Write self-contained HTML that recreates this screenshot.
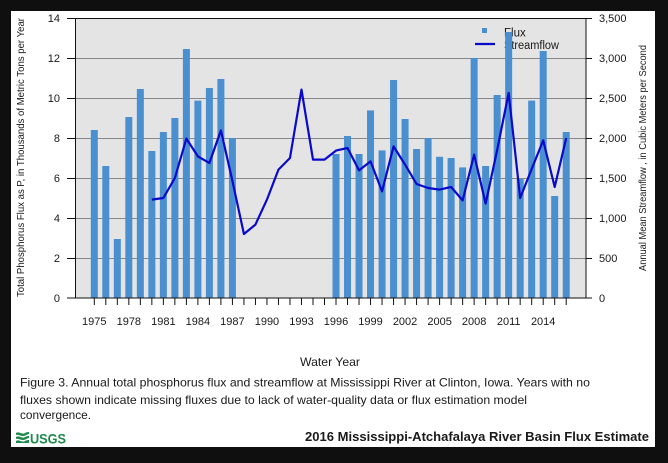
<!DOCTYPE html>
<html><head><meta charset="utf-8"><style>
html,body{margin:0;padding:0;background:#0f0f0f;}
svg{display:block;}
text{font-family:"Liberation Sans",Arial,sans-serif;fill:#1a1a1a;}
</style></head><body>
<svg width="668" height="463" viewBox="0 0 668 463" xmlns="http://www.w3.org/2000/svg">
<rect x="0" y="0" width="668" height="463" fill="#0f0f0f"/>
<rect x="11" y="11" width="644" height="436" fill="#ffffff"/>
<!-- plot area -->
<rect x="75" y="18" width="511" height="280" fill="#e4e4e4"/>
<g stroke="#888" stroke-width="1">
<line x1="75" y1="258.5" x2="586" y2="258.5"/>
<line x1="75" y1="218.5" x2="586" y2="218.5"/>
<line x1="75" y1="178.5" x2="586" y2="178.5"/>
<line x1="75" y1="138.5" x2="586" y2="138.5"/>
<line x1="75" y1="98.5" x2="586" y2="98.5"/>
<line x1="75" y1="58.5" x2="586" y2="58.5"/>
</g>
<!-- legend (drawn under bars) -->
<rect x="482" y="28" width="5" height="5" fill="#4a8fd0"/>
<line x1="475" y1="44" x2="495" y2="44" stroke="#0a0acc" stroke-width="2.2"/>
<text x="504" y="36.5" font-size="11.5">Flux</text>
<text x="504" y="49" font-size="11.5" textLength="55" lengthAdjust="spacingAndGlyphs">Streamflow</text>
<!-- bars -->
<g fill="#4a8fd0">
<rect x="90.8" y="130" width="7" height="168"/>
<rect x="102.31" y="166" width="7" height="132"/>
<rect x="113.82" y="239" width="7" height="59"/>
<rect x="125.33" y="117" width="7" height="181"/>
<rect x="136.84" y="89" width="7" height="209"/>
<rect x="148.35" y="151" width="7" height="147"/>
<rect x="159.86" y="132" width="7" height="166"/>
<rect x="171.37" y="118" width="7" height="180"/>
<rect x="182.88" y="49" width="7" height="249"/>
<rect x="194.39" y="100.6" width="7" height="197.4"/>
<rect x="205.9" y="88" width="7" height="210"/>
<rect x="217.41" y="79" width="7" height="219"/>
<rect x="228.92" y="138" width="7" height="160"/>
<rect x="332.51" y="154" width="7" height="144"/>
<rect x="344.02" y="136" width="7" height="162"/>
<rect x="355.53" y="154" width="7" height="144"/>
<rect x="367.04" y="110.4" width="7" height="187.6"/>
<rect x="378.55" y="150.4" width="7" height="147.6"/>
<rect x="390.06" y="80" width="7" height="218"/>
<rect x="401.57" y="119" width="7" height="179"/>
<rect x="413.08" y="149" width="7" height="149"/>
<rect x="424.59" y="138" width="7" height="160"/>
<rect x="436.1" y="156.8" width="7" height="141.2"/>
<rect x="447.61" y="158" width="7" height="140"/>
<rect x="459.12" y="167.4" width="7" height="130.6"/>
<rect x="470.63" y="58" width="7" height="240"/>
<rect x="482.14" y="166" width="7" height="132"/>
<rect x="493.65" y="95" width="7" height="203"/>
<rect x="505.16" y="32" width="7" height="266"/>
<rect x="516.67" y="179" width="7" height="119"/>
<rect x="528.18" y="100.6" width="7" height="197.4"/>
<rect x="539.69" y="51" width="7" height="247"/>
<rect x="551.2" y="196" width="7" height="102"/>
<rect x="562.71" y="132" width="7" height="166"/>
</g>
<!-- streamflow line -->
<polyline fill="none" stroke="#0a0acc" stroke-width="2.2" stroke-linejoin="round" points="151.85,199.6 163.36,198 174.87,178 186.38,138.6 197.89,156.4 209.4,163 220.91,130.4 232.42,181 243.93,234 255.44,224.6 266.95,199.6 278.46,169.6 289.97,158 301.48,89.6 312.99,159.6 324.5,159.6 336.01,150.6 347.52,148 359.03,170.4 370.54,161.4 382.05,191.4 393.56,146.4 405.07,164.6 416.58,184 428.09,188 439.6,189.6 451.11,187 462.62,200.4 474.13,154.6 485.64,203.6 497.15,150 508.66,93 520.17,198 531.68,169 543.19,140.4 554.7,187 566.21,138"/>
<!-- frame -->
<rect x="75.5" y="18.5" width="510.5" height="279.5" fill="none" stroke="#111" stroke-width="1"/>
<!-- left ticks -->
<g stroke="#111" stroke-width="1">
<line x1="67" y1="18.5" x2="75" y2="18.5"/>
<line x1="67" y1="58.5" x2="75" y2="58.5"/>
<line x1="67" y1="98.5" x2="75" y2="98.5"/>
<line x1="67" y1="138.5" x2="75" y2="138.5"/>
<line x1="67" y1="178.5" x2="75" y2="178.5"/>
<line x1="67" y1="218.5" x2="75" y2="218.5"/>
<line x1="67" y1="258.5" x2="75" y2="258.5"/>
<line x1="67" y1="298" x2="75" y2="298"/>
<line x1="586" y1="18.5" x2="592" y2="18.5"/>
<line x1="586" y1="58.5" x2="592" y2="58.5"/>
<line x1="586" y1="98.5" x2="592" y2="98.5"/>
<line x1="586" y1="138.5" x2="592" y2="138.5"/>
<line x1="586" y1="178.5" x2="592" y2="178.5"/>
<line x1="586" y1="218.5" x2="592" y2="218.5"/>
<line x1="586" y1="258.5" x2="592" y2="258.5"/>
<line x1="586" y1="298" x2="592" y2="298"/>
</g>
<!-- bottom ticks -->
<g stroke="#111" stroke-width="1">
<line x1="94.3" y1="298" x2="94.3" y2="305"/><line x1="105.81" y1="298" x2="105.81" y2="305"/><line x1="117.32" y1="298" x2="117.32" y2="305"/><line x1="128.83" y1="298" x2="128.83" y2="305"/><line x1="140.34" y1="298" x2="140.34" y2="305"/><line x1="151.85" y1="298" x2="151.85" y2="305"/><line x1="163.36" y1="298" x2="163.36" y2="305"/><line x1="174.87" y1="298" x2="174.87" y2="305"/><line x1="186.38" y1="298" x2="186.38" y2="305"/><line x1="197.89" y1="298" x2="197.89" y2="305"/><line x1="209.4" y1="298" x2="209.4" y2="305"/><line x1="220.91" y1="298" x2="220.91" y2="305"/><line x1="232.42" y1="298" x2="232.42" y2="305"/><line x1="243.93" y1="298" x2="243.93" y2="305"/><line x1="255.44" y1="298" x2="255.44" y2="305"/><line x1="266.95" y1="298" x2="266.95" y2="305"/><line x1="278.46" y1="298" x2="278.46" y2="305"/><line x1="289.97" y1="298" x2="289.97" y2="305"/><line x1="301.48" y1="298" x2="301.48" y2="305"/><line x1="312.99" y1="298" x2="312.99" y2="305"/><line x1="324.5" y1="298" x2="324.5" y2="305"/><line x1="336.01" y1="298" x2="336.01" y2="305"/><line x1="347.52" y1="298" x2="347.52" y2="305"/><line x1="359.03" y1="298" x2="359.03" y2="305"/><line x1="370.54" y1="298" x2="370.54" y2="305"/><line x1="382.05" y1="298" x2="382.05" y2="305"/><line x1="393.56" y1="298" x2="393.56" y2="305"/><line x1="405.07" y1="298" x2="405.07" y2="305"/><line x1="416.58" y1="298" x2="416.58" y2="305"/><line x1="428.09" y1="298" x2="428.09" y2="305"/><line x1="439.6" y1="298" x2="439.6" y2="305"/><line x1="451.11" y1="298" x2="451.11" y2="305"/><line x1="462.62" y1="298" x2="462.62" y2="305"/><line x1="474.13" y1="298" x2="474.13" y2="305"/><line x1="485.64" y1="298" x2="485.64" y2="305"/><line x1="497.15" y1="298" x2="497.15" y2="305"/><line x1="508.66" y1="298" x2="508.66" y2="305"/><line x1="520.17" y1="298" x2="520.17" y2="305"/><line x1="531.68" y1="298" x2="531.68" y2="305"/><line x1="543.19" y1="298" x2="543.19" y2="305"/><line x1="554.7" y1="298" x2="554.7" y2="305"/><line x1="566.21" y1="298" x2="566.21" y2="305"/>
</g>
<!-- left tick labels -->
<g font-size="11" text-anchor="end">
<text x="60" y="22">14</text>
<text x="60" y="62">12</text>
<text x="60" y="102">10</text>
<text x="60" y="142">8</text>
<text x="60" y="182">6</text>
<text x="60" y="222">4</text>
<text x="60" y="262">2</text>
<text x="60" y="302">0</text>
</g>
<!-- right tick labels -->
<g font-size="11">
<text x="599" y="22">3,500</text>
<text x="599" y="62">3,000</text>
<text x="599" y="102">2,500</text>
<text x="599" y="142">2,000</text>
<text x="599" y="182">1,500</text>
<text x="599" y="222">1,000</text>
<text x="599" y="262">500</text>
<text x="599" y="302">0</text>
</g>
<!-- x labels -->
<g font-size="11" text-anchor="middle">
<text x="94.3" y="325">1975</text>
<text x="128.83" y="325">1978</text>
<text x="163.36" y="325">1981</text>
<text x="197.89" y="325">1984</text>
<text x="232.42" y="325">1987</text>
<text x="266.95" y="325">1990</text>
<text x="301.48" y="325">1993</text>
<text x="336.01" y="325">1996</text>
<text x="370.54" y="325">1999</text>
<text x="405.07" y="325">2002</text>
<text x="439.6" y="325">2005</text>
<text x="474.13" y="325">2008</text>
<text x="508.66" y="325">2011</text>
<text x="543.19" y="325">2014</text>
</g>
<!-- axis titles -->
<text transform="translate(24,297) rotate(-90)" font-size="10.5" textLength="279" lengthAdjust="spacingAndGlyphs">Total Phosphorus Flux as P, in Thousands of Metric Tons per Year</text>
<text transform="translate(646,271) rotate(-90)" font-size="10.5" textLength="226" lengthAdjust="spacingAndGlyphs">Annual Mean Streamflow , in Cubic Meters per Second</text>
<text x="300" y="366" font-size="12" textLength="60" lengthAdjust="spacingAndGlyphs">Water Year</text>
<!-- caption -->
<g font-size="12">
<text x="20" y="386.5" textLength="570" lengthAdjust="spacingAndGlyphs">Figure 3. Annual total phosphorus flux and streamflow at Mississippi River at Clinton, Iowa. Years with no</text>
<text x="20" y="404" textLength="507" lengthAdjust="spacingAndGlyphs">fluxes shown indicate missing fluxes due to lack of water-quality data or flux estimation model</text>
<text x="20" y="419" textLength="71" lengthAdjust="spacingAndGlyphs">convergence.</text>
</g>
<!-- USGS logo -->
<g fill="#1f8a4c">
<path d="M16,433 C19,431 22,435 25,433 C27,432 28,432 29,432 L29,434 C27,434 26,436 23,436 C20,436 18,434 16,435 Z"/>
<path d="M16,437 C19,435 22,439 25,437 C27,436 28,436 29,436 L29,438 C27,438 26,440 23,440 C20,440 18,438 16,439 Z"/>
<path d="M16,441 C19,439 22,443 25,441 C27,440 28,440 29,440 L29,443 L16,443 Z"/>
</g>
<text x="30" y="443.5" font-size="14" font-weight="bold" style="fill:#1f8a4c" textLength="36" lengthAdjust="spacingAndGlyphs">USGS</text>
<text x="305" y="441" font-size="13" font-weight="bold" textLength="344" lengthAdjust="spacingAndGlyphs">2016 Mississippi-Atchafalaya River Basin Flux Estimate</text>
</svg>
</body></html>
